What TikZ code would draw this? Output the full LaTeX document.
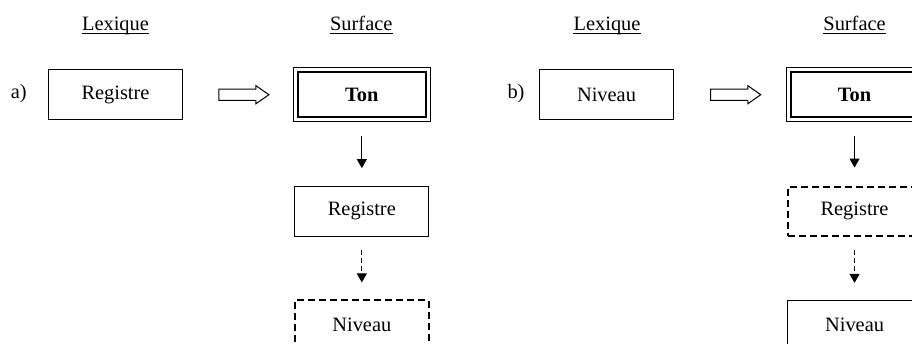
\documentclass[tikz,border=0pt]{standalone}
\usepackage{fontspec}
\setmainfont{Liberation Serif}
\usetikzlibrary{arrows.meta,calc,shapes.arrows}

\begin{document}
\begin{tikzpicture}[x=1cm,y=1cm,font=\fontsize{10.2}{12}\selectfont,
    box/.style={draw,line width=0.5pt,minimum width=2.35cm,minimum height=0.87cm,inner sep=0pt},
    ghost/.style={box,line width=1pt,dash pattern=on 3.5pt off 2pt},
    tonbox/.style={draw,line width=1pt,minimum width=2.25cm,minimum height=0.79cm,inner sep=0pt,
      font=\fontsize{10.2}{12}\selectfont\bfseries},
    head/.style={anchor=base,inner xsep=0pt},
    bigarrow/.style={single arrow,draw,line width=0.5pt,minimum height=0.88cm,inner sep=0.09cm,
      single arrow head extend=0.06cm,single arrow tip angle=70},
    down/.style={-{Triangle[length=4.5pt,width=5pt]},line width=0.5pt,shorten <=9pt,shorten >=9pt},
    maybe/.style={down,dash pattern=on 2.5pt off 1.5pt,shorten <=6.5pt,shorten >=8.5pt}]
  \useasboundingbox (0,0) rectangle (16.03,6.045);
  \clip (0,0) rectangle (16.03,6.045);

  % column titles
  \node[head] (a-lexh) at (2.03,5.50) {Lexique};
  \node[head] (a-surh) at (6.35,5.50) {Surface};
  \node[head] (b-lexh) at (10.67,5.50) {Lexique};
  \node[head] (b-surh) at (15.02,5.50) {Surface};
  \foreach \h in {a-lexh,a-surh,b-lexh,b-surh}
    \draw[line width=0.5pt] ([yshift=-1.1pt]\h.base west) -- ([yshift=-1.1pt]\h.base east);

  % a)
  \node[anchor=base] (a-tag) at (0.33,4.31) {a)};
  \node[box] (a-lex) at (2.03,4.38) {Registre};
  \node[tonbox] (a-ton) at (6.36,4.38) {Ton};
  \node[box] (a-reg) at (6.36,2.33) {Registre};
  \node[ghost] (a-niv) at (6.36,0.33) {Niveau};
  \node[bigarrow] (a-go) at ($(a-lex.east)!.5!(a-ton.west)$) {};
  \draw[down] (a-ton) -- (a-reg);
  \draw[maybe] (a-reg) -- (a-niv);

  % b)
  \node[anchor=base] (b-tag) at (9.07,4.31) {b)};
  \node[box] (b-lex) at (10.66,4.38) {Niveau};
  \node[tonbox] (b-ton) at (15.02,4.38) {Ton};
  \node[ghost] (b-reg) at (15.02,2.33) {Registre};
  \node[box] (b-niv) at (15.02,0.33) {Niveau};
  \node[bigarrow] (b-go) at ($(b-lex.east)!.5!(b-ton.west)$) {};
  \draw[down] (b-ton) -- (b-reg);
  \draw[maybe] (b-reg) -- (b-niv);

  % outer frame of the surface tone
  \foreach \t in {a-ton,b-ton}
    \draw[line width=0.5pt] ([shift={(-0.06,0.06)}]\t.north west) rectangle ([shift={(0.06,-0.06)}]\t.south east);
\end{tikzpicture}
\end{document}
